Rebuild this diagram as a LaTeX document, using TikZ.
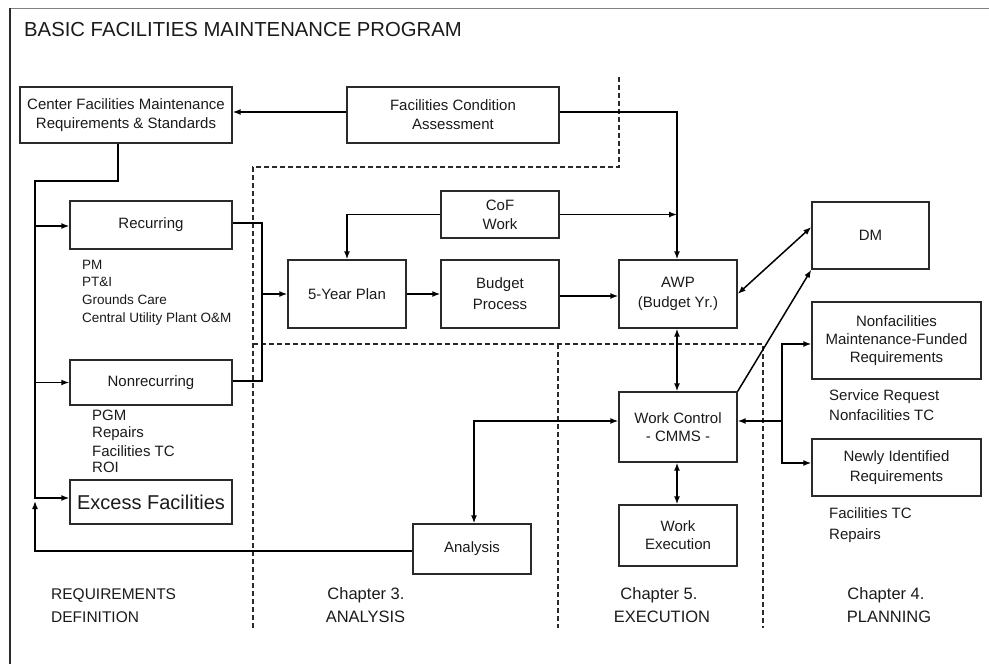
\documentclass[tikz,border=0pt]{standalone}
\usepackage{fontspec}
\setmainfont{Liberation Sans}
\usetikzlibrary{arrows.meta}
\definecolor{ink}{HTML}{1A1A1A}
\definecolor{boxline}{HTML}{2A2A2A}
\begin{document}
\begin{tikzpicture}[x=1pt,y=-1pt,
  box/.style={draw=boxline,line width=1.4pt,inner sep=0pt,align=center,text=ink,font=\fontsize{15}{19}\selectfont},
  arr/.style={-{Latex[length=8pt,width=6pt]},line width=1.5pt},
  darr/.style={{Latex[length=8pt,width=6pt]}-{Latex[length=8pt,width=6pt]},line width=1.5pt},
  ln/.style={line width=1.5pt},
  sep/.style={dash pattern=on 5pt off 3pt,line width=1.3pt,draw=boxline},
  lsts/.style={anchor=base west,inner sep=0pt,text=ink,font=\fontsize{13.5}{16}\selectfont},
  lstl/.style={anchor=base west,inner sep=0pt,text=ink,font=\fontsize{15}{18}\selectfont},
  chap/.style={anchor=base,inner sep=0pt,text=ink,font=\fontsize{16.5}{19}\selectfont},
  reqd/.style={anchor=base west,inner sep=0pt,text=ink,font=\fontsize{15.5}{19}\selectfont}]
\useasboundingbox (0,0) rectangle (989,664);

% frame
\draw[line width=0.9pt,draw=gray] (10,8) -- (989,8);
\draw[line width=1.2pt,draw=boxline] (10,664) -- (10,8);

% title
\node[anchor=base west,inner sep=0pt,text=ink,font=\fontsize{20.3}{24}\selectfont] (title) at (24,36) {BASIC FACILITIES MAINTENANCE PROGRAM};

% dashed separators
\draw[sep] (619,77) -- (619,167) -- (253,167) -- (253,628);
\draw[sep] (253,344) -- (763,344) -- (763,628);
\draw[sep] (558,344) -- (558,628);

% boxes
\node[box,minimum width=212pt,minimum height=56pt] (cfm) at (126,115) {Center Facilities Maintenance\\Requirements \& Standards};
\node[box,minimum width=212pt,minimum height=56pt] (fca) at (453,115) {Facilities Condition\\Assessment};
\node[box,minimum width=118pt,minimum height=47pt] (cof) at (500,214.5) {CoF\\Work};
\node[box,minimum width=162pt,minimum height=48pt] (rec) at (151,225) {Recurring};
\node[box,minimum width=162pt,minimum height=45pt] (nrec) at (151,382.5) {Nonrecurring};
\node[box,minimum width=162pt,minimum height=44pt,font=\fontsize{20}{24}\selectfont] (exc) at (151,502) {Excess Facilities};
\node[box,minimum width=118pt,minimum height=68pt] (fyp) at (347,294) {5-Year Plan};
\node[box,minimum width=118pt,minimum height=68pt,font=\fontsize{15}{21}\selectfont] (bud) at (500,294) {Budget\\Process};
\node[box,minimum width=118pt,minimum height=68pt,font=\fontsize{15}{20}\selectfont] (awp) at (678,294) {AWP\\(Budget Yr.)};
\node[box,minimum width=117pt,minimum height=67pt] (dm) at (870.5,235.5) {DM};
\node[box,minimum width=169pt,minimum height=77pt,font=\fontsize{15}{18}\selectfont] (nfm) at (896.5,340.5) {Nonfacilities\\Maintenance-Funded\\Requirements};
\node[box,minimum width=169pt,minimum height=57pt,font=\fontsize{15}{20}\selectfont] (nir) at (896.5,467.5) {Newly Identified\\Requirements};
\node[box,minimum width=118pt,minimum height=70pt,font=\fontsize{15}{18}\selectfont] (wc) at (678,427) {Work Control\\- CMMS -};
\node[box,minimum width=118pt,minimum height=61pt,font=\fontsize{15}{18}\selectfont] (we) at (678,535.5) {Work\\Execution};
\node[box,minimum width=118pt,minimum height=50pt] (ana) at (472,549) {Analysis};

% lists
\node[lsts] (r1) at (82,269) {PM};
\node[lsts] (r2) at (82,286) {PT\&I};
\node[lsts] (r3) at (82,304) {Grounds Care};
\node[lsts] (r4) at (82,322) {Central Utility Plant O\&M};
\node[lstl] (n1) at (92,420) {PGM};
\node[lstl] (n2) at (92,437) {Repairs};
\node[lstl] (n3) at (92,456) {Facilities TC};
\node[lstl] (n4) at (92,472) {ROI};
\node[lstl] (s1) at (829,400) {Service Request};
\node[lstl] (s2) at (829,420) {Nonfacilities TC};
\node[lstl] (f1) at (829,518) {Facilities TC};
\node[lstl] (f2) at (829,539) {Repairs};

% chapter labels
\node[reqd] (q1) at (51,599) {REQUIREMENTS};
\node[reqd] (q2) at (51,622) {DEFINITION};
\node[chap] (c3a) at (366,599) {Chapter 3.};
\node[chap] (c3b) at (365.5,622) {ANALYSIS};
\node[chap] (c5a) at (659,599) {Chapter 5.};
\node[chap] (c5b) at (662,622) {EXECUTION};
\node[chap] (c4a) at (886,599) {Chapter 4.};
\node[chap] (c4b) at (889,622) {PLANNING};

% junction coordinates
\coordinate (jc) at (677,214.5);
\coordinate (jr) at (782,421);
\coordinate (jt) at (262,223);
\coordinate (jb) at (262,381);
\coordinate (jm) at (262,294);
\coordinate (l1) at (118,181);
\coordinate (l2) at (35,181);
\coordinate (l3) at (35,498);
\coordinate (lr) at (35,226);
\coordinate (lnr) at (35,382.5);
\coordinate (lb) at (35,551);
\coordinate (lu) at (35,501);

% connectors
\draw[arr] ([yshift=3pt]fca.west) -- ([yshift=3pt]cfm.east);
\draw[arr] ([yshift=3pt]fca.east) -| ([xshift=-1pt]awp.north);
\draw[arr] (cof.east) -- (jc);
\draw[arr] (cof.west) -| (fyp.north);
\draw[arr] (fyp.east) -- (bud.west);
\draw[arr] ([yshift=-2pt]bud.east) -- ([yshift=-2pt]awp.west);
\draw[darr] ([xshift=-1pt]awp.south) -- ([xshift=-1pt]wc.north);
\draw[darr] ([xshift=-1pt]wc.south) -- ([xshift=-1pt]we.north);
\draw[darr] (awp.east) -- ([yshift=8.5pt]dm.west);
\draw[arr] (wc.north east) -- (dm.south west);
\draw[darr] ([yshift=6pt]wc.west) -| ([xshift=2pt]ana.north);
\draw[arr] (jr) -- ([yshift=6pt]wc.east);
\draw[arr] (jr) |- ([yshift=-3.5pt]nfm.west);
\draw[arr] (jr) |- ([yshift=4.5pt]nir.west);
\draw[ln] ([yshift=2pt]rec.east) -- (jt) -- (jb) -- ([yshift=1.5pt]nrec.east);
\draw[arr] (jm) -- (fyp.west);
\draw[arr] ([xshift=-8pt]cfm.south) -- (l1) -- (l2) -- (l3) -- ([yshift=4pt]exc.west);
\draw[arr] (lr) -- ([yshift=-1pt]rec.west);
\draw[arr] (lnr) -- (nrec.west);
\draw[arr] ([yshift=-2pt]ana.west) -- (lb) -- (lu);
\end{tikzpicture}
\end{document}
